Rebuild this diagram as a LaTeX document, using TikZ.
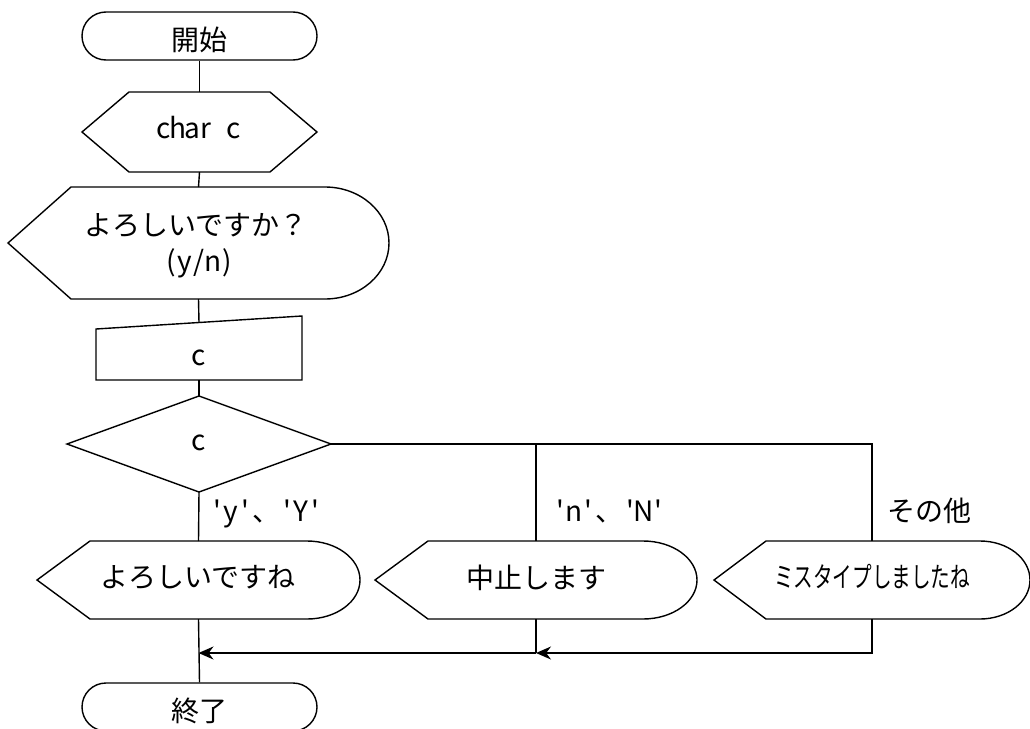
\documentclass[tikz,border=0pt]{standalone}
\usepackage{fontspec}
\setmainfont{Noto Sans CJK JP}
\usepackage{graphicx}
\usetikzlibrary{shapes.misc,arrows.meta,calc}
\newcommand\hw[1]{\makebox[14pt]{#1}}
\newcommand\qt{\hw{\textquotesingle}}
\newcommand\dispshape[4]{%
  \draw[ln] (#1.west) -- ([xshift=#2]#1.north west) -- ([xshift=-#3]#1.north east)
    arc[start angle=90,end angle=0,x radius=#3,y radius=#4]
    arc[start angle=0,end angle=-90,x radius=#3,y radius=#4]
    -- ([xshift=#2]#1.south west) -- cycle;}
\begin{document}
\begin{tikzpicture}[x=1pt,y=-1pt,
  ln/.style={line width=1.4pt,line join=miter},
  frm/.style={inner sep=0pt,outer sep=0pt,draw=none},
  txt/.style={inner sep=0pt,outer sep=0pt,font=\fontsize{28pt}{32pt}\selectfont,anchor=base},
  arr/.style={-{Stealth[length=15pt,width=13pt]}}]
\useasboundingbox (0,0) rectangle (1030,728);
\clip (0,0) rectangle (1030,728);
% shapes
\node[ln,draw,rounded rectangle,inner sep=0pt,minimum width=235pt,minimum height=48pt] (start) at (199.5,36) {};
\node[frm,minimum width=235pt,minimum height=80pt] (decl) at (199.5,132) {};
\draw[ln] (decl.west) -- ([xshift=47pt]decl.north west) -- ([xshift=-47pt]decl.north east) -- (decl.east)
  -- ([xshift=-47pt]decl.south east) -- ([xshift=47pt]decl.south west) -- cycle;
\node[frm,minimum width=381pt,minimum height=112pt] (disp) at (198.5,243) {};
\dispshape{disp}{63pt}{64pt}{56pt}
\node[frm,minimum width=206pt,minimum height=64pt] (man) at (199,348) {};
\draw[ln] ([yshift=-13pt]man.north west) -- (man.north east) -- (man.south east) -- (man.south west) -- cycle;
\coordinate (mantop) at ($([yshift=-13pt]man.north west)!0.5!(man.north east)$);
\node[frm,minimum width=264pt,minimum height=96pt] (dec) at (199,444) {};
\draw[ln] (dec.west) -- (dec.north) -- (dec.east) -- (dec.south) -- cycle;
\node[frm,minimum width=323pt,minimum height=78pt] (box1) at (198.5,580) {};
\dispshape{box1}{53pt}{53pt}{39pt}
\node[frm,minimum width=322pt,minimum height=78pt] (box2) at (536,580) {};
\dispshape{box2}{53pt}{54pt}{39pt}
\node[frm,minimum width=316pt,minimum height=78pt] (box3) at (872,580) {};
\dispshape{box3}{52pt}{50pt}{39pt}
\node[ln,draw,rounded rectangle,inner sep=0pt,minimum width=235pt,minimum height=48pt] (endt) at (199.5,707) {};
% connectors
\draw[ln] (start.south) -- (decl.north);
\draw[ln] (decl.south) -- (disp.north);
\draw[ln] (disp.south) -- (mantop);
\draw[ln] (man.south) -- (dec.north);
\draw[ln] (dec.south) -- (box1.north);
\draw[ln] (dec.east) -| (box3.north);
\coordinate (j2) at (box2.north |- dec.east);
\draw[ln] (j2) -- (box2.north);
\draw[ln] (box1.south) -- (endt.north);
\coordinate (m1) at (box1.south |- 0,653);
\coordinate (m2) at (box2.south |- m1);
\draw[ln] (box2.south) -- (m2);
\draw[ln,arr] (box3.south) |- (m2);
\draw[ln,arr] (m2) -- (m1);
% texts
\node[txt] (t0) at (199,50) {開始};
\node[txt] (t1) at (199,138) {\hw{c}\hw{h}\hw{a}\hw{r}\hw{ }\hw{c}};
\node[txt] (t2a) at (196,235) {よろしいですか？};
\node[txt] (t2b) at (199,271) {\hw{(}\hw{y}\hw{/}\hw{n}\hw{)}};
\node[txt] (t3) at (199,365) {c};
\node[txt] (t4) at (199,450) {c};
\node[txt,anchor=base west] (l1) at (210,521) {\qt\hw{y}\qt、\qt\hw{Y}\qt};
\node[txt,anchor=base west] (l2) at (553,521) {\qt\hw{n}\qt、\qt\hw{N}\qt};
\node[txt,anchor=base west] (l3) at (887,521) {その他};
\node[txt] (t5) at (198,587) {よろしいですね};
\node[txt] (t6) at (536,588) {中止します};
\node[txt] (t7) at (872,587) {\scalebox{0.7}[1]{ミスタイプしましたね}};
\node[txt] (t8) at (199,721) {終了};
\end{tikzpicture}
\end{document}
